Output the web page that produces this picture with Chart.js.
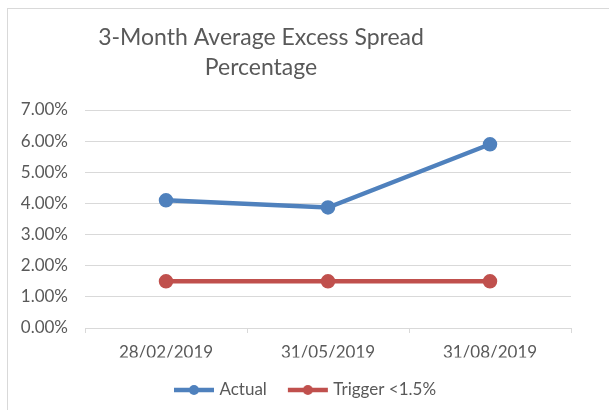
<!DOCTYPE html>
<html>
<head>
<meta charset="utf-8">
<script src="https://cdn.jsdelivr.net/npm/chart.js@4/dist/chart.umd.min.js"></script>
<style>
  html, body { margin: 0; padding: 0; background: #fff; }
  #wrap { position: relative; width: 609px; height: 410px; }
  #frame { position: absolute; left: 7px; top: 8px; right: -2px; bottom: -2px;
           border-left: 1px solid #d9d9d9; border-top: 1px solid #d9d9d9; }
  canvas { position: absolute; left: 0; top: 0; }
</style>
</head>
<body>
<div id="wrap">
  <div id="frame"></div>
  <canvas id="chart" width="609" height="410"></canvas>
</div>
<script>
const titleLines = ['3-Month Average Excess Spread', 'Percentage'];
const categories = ['28/02/2019', '31/05/2019', '31/08/2019'];
const actualValues = [4.1, 3.87, 5.9];
const triggerValues = [1.5, 1.5, 1.5];
const seriesNames = ['Actual', 'Trigger <1.5%'];
const seriesColors = ['#4f81bd', '#c0504d'];

const textColor = '#595959';
const gridColor = '#d9d9d9';

// little line + dot sample, like the excel legend
function legendSample(color) {
    const c = document.createElement('canvas');
    c.width = 42;
    c.height = 12;
    const g = c.getContext('2d');
    g.strokeStyle = color;
    g.lineWidth = 4.5;
    g.beginPath();
    g.moveTo(1, 6);
    g.lineTo(41, 6);
    g.stroke();
    g.fillStyle = color;
    g.beginPath();
    g.arc(21, 6, 5, 0, Math.PI * 2);
    g.fill();
    return c;
}

const titlePlugin = {
    id: 'excelTitle',
    afterDraw(chart) {
        const ctx = chart.ctx;
        ctx.save();
        ctx.fillStyle = textColor;
        ctx.font = '400 23px Lato';
        ctx.textAlign = 'center';
        ctx.textBaseline = 'alphabetic';
        ctx.fillText(titleLines[0], 261, 45);
        ctx.fillText(titleLines[1], 261, 75);
        ctx.restore();
    }
};

// excel centres the legend a bit further right than the full box
const legendShift = {
    id: 'legendShift',
    afterLayout(chart) {
        const lg = chart.legend;
        if (lg) {
            lg.left += 21;
            lg.right += 21;
        }
    }
};

new Chart(document.getElementById('chart'), {
    type: 'line',
    data: {
        labels: categories,
        datasets: [{
            label: seriesNames[0],
            data: actualValues,
            borderColor: seriesColors[0],
            backgroundColor: seriesColors[0],
            borderWidth: 4.5,
            pointRadius: 5,
            pointHoverRadius: 5,
            tension: 0
        }, {
            label: seriesNames[1],
            data: triggerValues,
            borderColor: seriesColors[1],
            backgroundColor: seriesColors[1],
            borderWidth: 4.5,
            pointRadius: 5,
            pointHoverRadius: 5,
            tension: 0
        }]
    },
    options: {
        responsive: false,
        animation: false,
        layout: { padding: { top: 110, right: 38, bottom: 1.5, left: 0 } },
        plugins: {
            title: { display: false },
            tooltip: { enabled: false },
            legend: {
                position: 'bottom',
                labels: {
                    color: textColor,
                    font: { family: 'Lato', size: 17 },
                    usePointStyle: true,
                    pointStyleWidth: 34,
                    padding: 24,
                    generateLabels(chart) {
                        return chart.data.datasets.map((ds, i) => ({
                            text: ds.label,
                            fontColor: textColor,
                            pointStyle: legendSample(seriesColors[i]),
                            datasetIndex: i,
                            hidden: false,
                            lineWidth: 0
                        }));
                    }
                }
            }
        },
        scales: {
            x: {
                offset: true,
                grid: {
                    offset: true,
                    drawOnChartArea: false,
                    drawTicks: true,
                    tickLength: 5,
                    color: gridColor
                },
                border: { display: true, color: gridColor },
                ticks: {
                    color: textColor,
                    font: { family: 'Lato', size: 17 },
                    padding: 9,
                    maxRotation: 0
                },
                afterFit(scale) { scale.height = 29.5; }
            },
            y: {
                min: 0,
                max: 7,
                grid: { color: gridColor, drawTicks: false },
                border: { display: false },
                ticks: {
                    stepSize: 1,
                    color: textColor,
                    font: { family: 'Lato', size: 17 },
                    padding: 17,
                    callback: v => v.toFixed(2) + '%'
                },
                afterFit(scale) { scale.width = 85; }
            }
        }
    },
    plugins: [titlePlugin, legendShift]
});
</script>
</body>
</html>
